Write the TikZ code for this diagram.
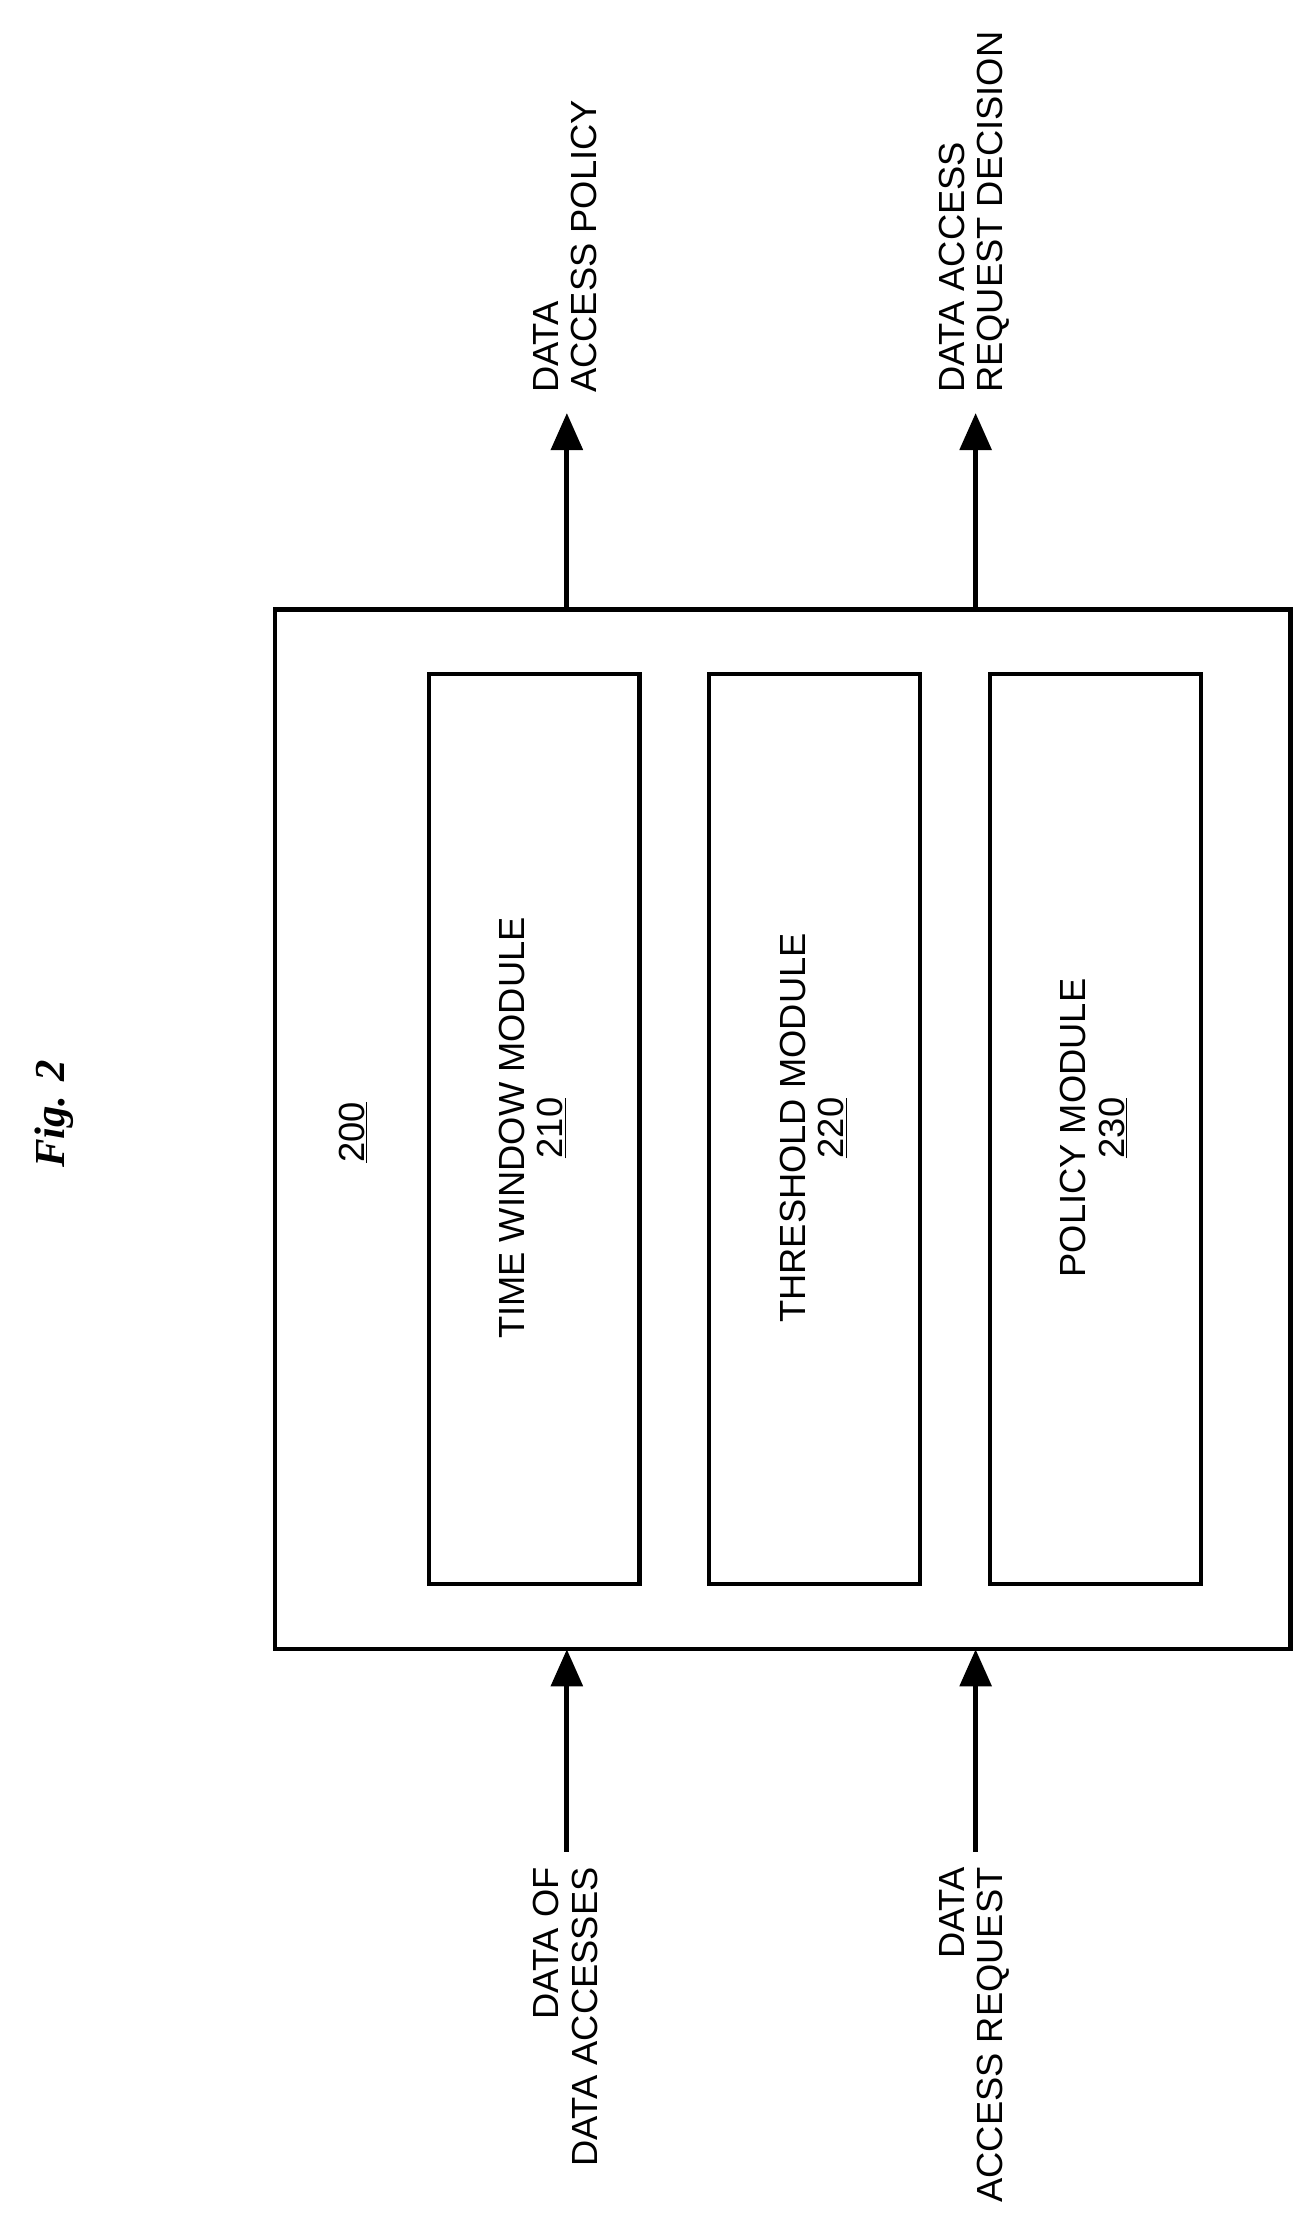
\documentclass[tikz,border=0pt]{standalone}
\usepackage{fontspec}
\setmainfont{Liberation Sans}
\newfontfamily\figfont{Liberation Serif}
\usetikzlibrary{arrows.meta}
\begin{document}
\begin{tikzpicture}[x=1pt,y=-1pt,
  box/.style={draw,line width=3pt},
  arr/.style={line width=3.5pt,-{Triangle[length=26pt,width=22pt]}},
  lbl/.style={rotate=90,font=\fontsize{25.5}{27}\selectfont,inner sep=0pt}]
\useasboundingbox (0,0) rectangle (917,1558);
\draw[box] (193,428) rectangle (906,1158);
\node[lbl] (n200) at (248,795) {\underline{200}};
\draw[box] (301,473) rectangle (449,1112);
\draw[box] (498,473) rectangle (646,1112);
\draw[box] (695,473) rectangle (843,1112);
\node[lbl,align=center] (m210) at (374,792) {TIME WINDOW MODULE\\\underline{210}};
\node[lbl,align=center] (m220) at (571,792) {THRESHOLD MODULE\\\underline{220}};
\node[lbl,align=center] (m230) at (768,792) {POLICY MODULE\\\underline{230}};
\coordinate (b1) at (398,1300); \coordinate (t1) at (398,1158);
\coordinate (b2) at (685,1300); \coordinate (t2) at (685,1158);
\coordinate (o1) at (398,428); \coordinate (p1) at (398,290);
\coordinate (o2) at (685,428); \coordinate (p2) at (685,290);
\draw[arr] (b1) -- (t1);
\draw[arr] (b2) -- (t2);
\draw[arr] (o1) -- (p1);
\draw[arr] (o2) -- (p2);
\node[lbl,align=left,anchor=west] (l1) at (397,276) {DATA\\ACCESS POLICY};
\node[lbl,align=left,anchor=west] (l2) at (684,276) {DATA ACCESS\\REQUEST DECISION};
\node[lbl,align=right,anchor=east] (l3) at (397,1311) {DATA OF\\DATA ACCESSES};
\node[lbl,align=right,anchor=east] (l4) at (684,1311) {DATA\\ACCESS REQUEST};
\node[rotate=90,font=\figfont\bfseries\itshape\fontsize{30}{34}\selectfont] (fig) at (38,782) {Fig. 2};
\end{tikzpicture}
\end{document}
